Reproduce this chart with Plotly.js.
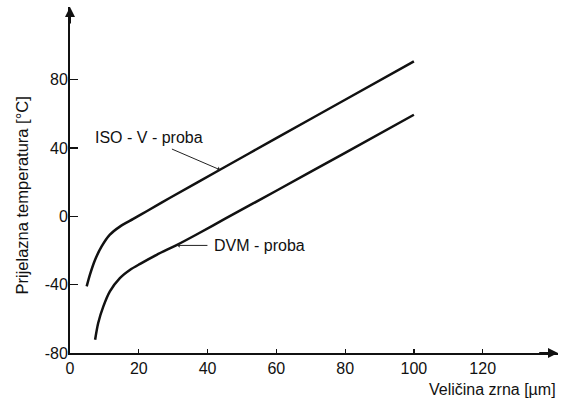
<!DOCTYPE html>
<html>
<head>
<meta charset="utf-8">
<script src="https://cdn.plot.ly/plotly-3.0.1.min.js"></script>
<style>html,body{margin:0;padding:0;background:#fff;}#chart{width:561px;height:399px;}</style>
</head>
<body>
<div id="chart"></div>
<script>
// Data
const isoX = [4.85, 5.8, 7.3, 9.2, 11.6, 14.5, 18.4, 22.3, 29.1, 43.6, 60, 80, 100];
const isoY = [-41, -34.1, -25.4, -17.6, -10.7, -6.0, -1.5, 3.0, 10.9, 27.3, 45.8, 68.3, 90.8];
const dvmX = [7.3, 8.2, 9.7, 11.6, 14.5, 17.4, 20.4, 25.2, 31, 36.8, 45, 60, 80, 100];
const dvmY = [-72.2, -62.4, -52.7, -43.9, -36.1, -31.4, -27.8, -22.5, -16.8, -10.6, -1.5, 15.0, 37.2, 59.5];
const xTicks = [0, 20, 40, 60, 80, 100, 120];
const yTicks = [-80, -40, 0, 40, 80];
const isoLabel = "ISO - V - proba";
const dvmLabel = "DVM - proba";
const xTitle = "Veličina zrna [µm]";
const yTitle = "Prijelazna temperatura [°C]";

const font = {family: "Liberation Sans, Arial, sans-serif", size: 16, color: "#111"};
const lineStyle = {color: "#111", width: 2.5, shape: "spline", smoothing: 0.8};

const traces = [
  {x: isoX, y: isoY, mode: "lines", line: lineStyle, name: isoLabel, hoverinfo: "skip"},
  {x: dvmX, y: dvmY, mode: "lines", line: lineStyle, name: dvmLabel, hoverinfo: "skip"}
];

const layout = {
  width: 561, height: 399,
  margin: {l: 70, r: 3, t: 7, b: 46},
  paper_bgcolor: "#fff", plot_bgcolor: "#fff",
  showlegend: false,
  font: font,
  xaxis: {
    range: [0, 141.9], tickvals: xTicks, ticktext: xTicks.map(String),
    ticks: "inside", ticklen: 4, tickwidth: 1.2, tickcolor: "#111",
    showline: true, linecolor: "#111", linewidth: 2, zeroline: false, showgrid: false,
    tickfont: font, fixedrange: true
  },
  yaxis: {
    range: [-80, 122.6], tickvals: yTicks, ticktext: yTicks.map(String),
    ticks: "inside", ticklen: 8, tickwidth: 1.2, tickcolor: "#111",
    showline: true, linecolor: "#111", linewidth: 2, zeroline: false, showgrid: false,
    tickfont: font, fixedrange: true, ticklabelstandoff: -3
  },
  annotations: [
    // axis arrowheads
    {x: 141.9, y: -80, ax: 136, ay: -80, xref: "x", yref: "y", axref: "x", ayref: "y",
     text: "", showarrow: true, arrowhead: 2, arrowsize: 1, arrowwidth: 2, arrowcolor: "#111"},
    {x: 0, y: 122.6, ax: 0, ay: 112, xref: "x", yref: "y", axref: "x", ayref: "y",
     text: "", showarrow: true, arrowhead: 2, arrowsize: 1, arrowwidth: 2, arrowcolor: "#111"},
    // curve labels
    {x: 22.9, y: 46.2, xref: "x", yref: "y", text: isoLabel, showarrow: false, font: font},
    {x: 43.6, y: 27.3, ax: 29.2, ay: 39.8, xref: "x", yref: "y", axref: "x", ayref: "y",
     text: "", showarrow: true, arrowhead: 1, arrowsize: 0.8, arrowwidth: 1, arrowcolor: "#222"},
    {x: 55, y: -17, xref: "x", yref: "y", text: dvmLabel, showarrow: false, font: font},
    {x: 31.2, y: -17, ax: 40.4, ay: -17, xref: "x", yref: "y", axref: "x", ayref: "y",
     text: "", showarrow: true, arrowhead: 1, arrowsize: 0.8, arrowwidth: 1, arrowcolor: "#222"},
    // axis titles
    {x: 1, y: 0, xref: "paper", yref: "paper", xanchor: "right", yanchor: "top", yshift: -26,
     text: xTitle, showarrow: false, font: {family: font.family, size: 16, color: "#111"}},
    {x: 21.5, y: 196, xref: "paper", yref: "paper", xanchor: "center", yanchor: "middle",
     text: yTitle, showarrow: false, textangle: -90,
     font: {family: font.family, size: 16.5, color: "#111"}}
  ]
};
// y-title position given in pixels -> convert to paper coords
(function(){
  const a = layout.annotations[layout.annotations.length - 1];
  const pw = layout.width - layout.margin.l - layout.margin.r;
  const ph = layout.height - layout.margin.t - layout.margin.b;
  a.x = (a.x - layout.margin.l) / pw;
  a.y = 1 - (a.y - layout.margin.t) / ph;
})();

Plotly.newPlot("chart", traces, layout, {displayModeBar: false, staticPlot: true});
</script>
</body>
</html>
